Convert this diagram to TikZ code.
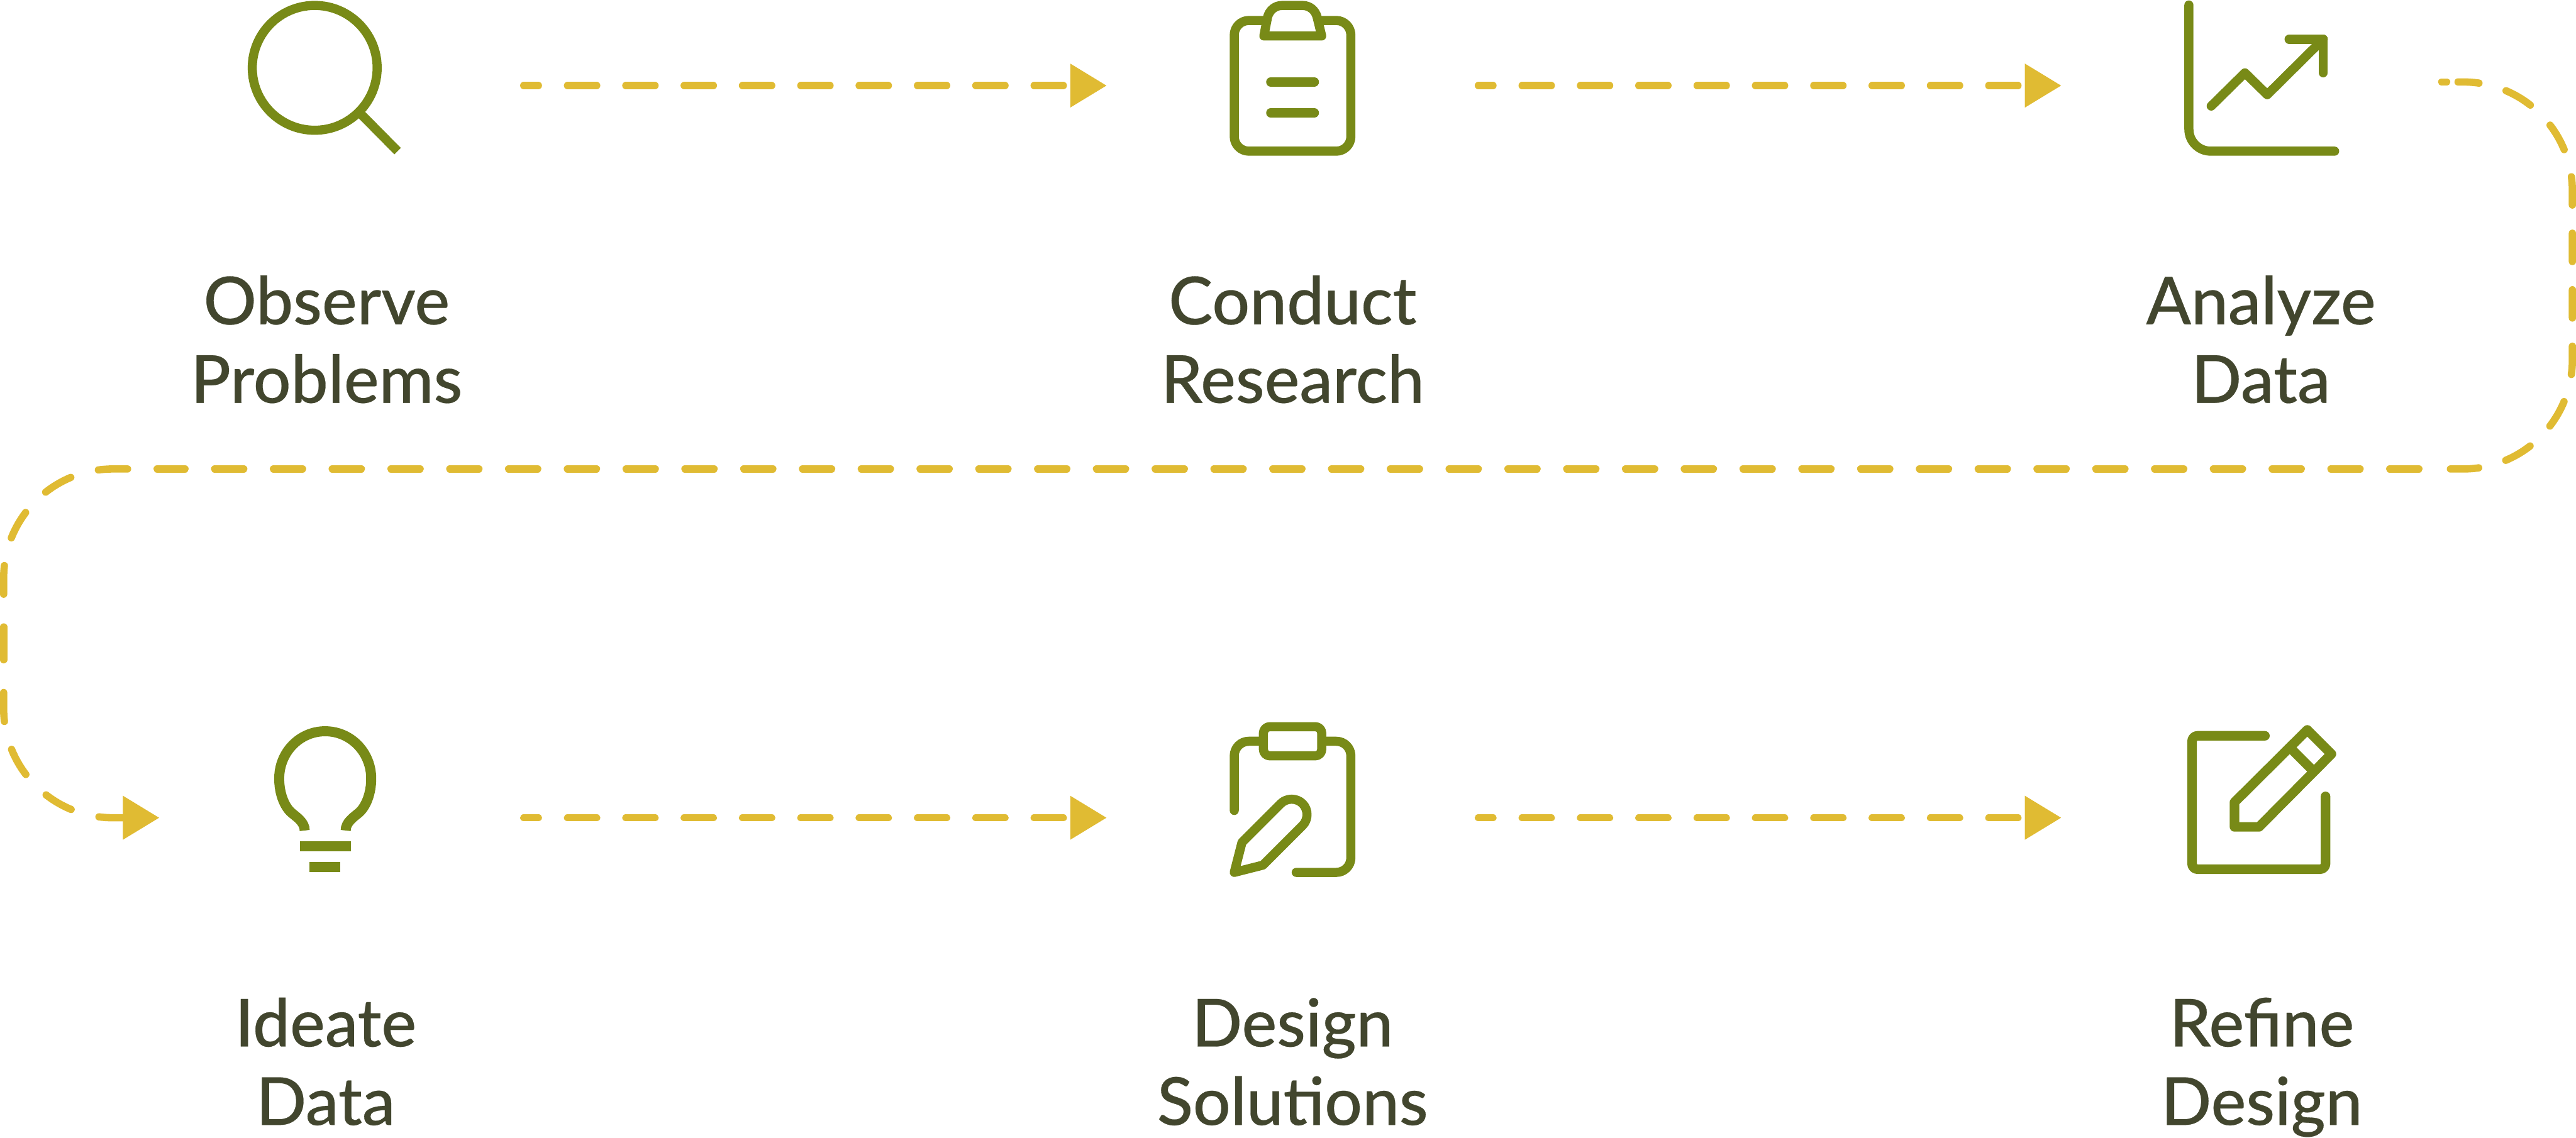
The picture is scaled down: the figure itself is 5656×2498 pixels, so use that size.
\documentclass[tikz,border=0pt]{standalone}
\usepackage{fontspec}
\setmainfont{Lato Medium}[FakeBold=0.25]
\usepackage{tikz}
\usetikzlibrary{arrows.meta}
\definecolor{olivegreen}{HTML}{788A17}
\definecolor{flowgold}{HTML}{E0BB33}
\definecolor{labelgrey}{HTML}{42462E}

\begin{document}
\begin{tikzpicture}[x=0.01cm,y=-0.01cm,
  icon/.style={draw=olivegreen,line width=0.2cm,line cap=round,line join=round},
  iconbutt/.style={draw=olivegreen,line width=0.2cm},
  flow/.style={draw=flowgold,line width=0.16cm,line cap=round},
  flowarrow/.style={flow,-{Triangle[length=0.8cm,width=0.92cm,fill=flowgold]}},
  stepdash/.style={dash pattern=on 0.64cm off 0.64cm},
  label/.style={align=center,text=labelgrey,font=\fontsize{41.3}{49}\selectfont}]
  \useasboundingbox (0,0) rectangle (5656,2498);
  % labels
  \node[label] (observe) at (717,764) {Observe\strut\\Problems\strut};
  \node[label] (conduct) at (2838,764) {Conduct\strut\\Research\strut};
  \node[label] (analyze) at (4964,764) {Analyze\strut\\Data\strut};
  \node[label] (ideate) at (715,2350) {Ideate\strut\\Data\strut};
  \node[label] (design) at (2838,2350) {Design\strut\\Solutions\strut};
  \node[label] (refine) at (4966,2350) {Refine\strut\\Design\strut};
  % magnifier
  \draw[iconbutt] (691,149) circle (1.37cm);
  \draw[iconbutt] (788,246) -- (873,332);
  % clipboard with lines
  \draw[icon,rounded corners=0.32cm] (2780,45) -- (2710,45) -- (2710,332) -- (2966,332) -- (2966,45) -- (2896,45);
  \draw[icon,fill=white] (2775,79) -- (2783,38) .. controls (2787,22) and (2800,12) .. (2815,12)
    -- (2860,12) .. controls (2875,12) and (2888,22) .. (2892,38) -- (2902,79) -- cycle;
  \draw[icon] (2790,180) -- (2886,180);
  \draw[icon] (2790,248) -- (2886,248);
  % chart
  \draw[icon,rounded corners=0.48cm] (4806,11) -- (4806,332) -- (5126,332);
  \draw[icon] (4855,233) -- (4929,160) -- (4978,208) -- (5101,86);
  \draw[icon] (5026,86) -- (5101,86) -- (5101,160);
  % bulb
  \draw[iconbutt,line width=0.22cm] (669,1824) .. controls (669,1806) and (652,1795) .. (640,1785)
    .. controls (624,1771) and (613,1742) .. (613,1710)
    .. controls (613,1652) and (658,1606) .. (714,1606)
    .. controls (770,1606) and (815,1652) .. (815,1710)
    .. controls (815,1742) and (804,1771) .. (788,1785)
    .. controls (776,1795) and (759,1806) .. (759,1824);
  \fill[olivegreen] (658,1847) rectangle (770,1870);
  \fill[olivegreen] (680,1893) rectangle (747,1915);
  % clipboard with pen
  \draw[icon,rounded corners=0.32cm] (2710,1780) -- (2710,1628) -- (2780,1628);
  \draw[icon,rounded corners=0.32cm] (2896,1628) -- (2966,1628) -- (2966,1916) -- (2846,1916);
  \draw[icon,fill=white,rounded corners=0.14cm] (2774,1596) rectangle (2902,1660);
  \draw[icon] (2710,1916) -- (2727,1850) -- (2812,1765) .. controls (2825,1752) and (2847,1752) .. (2860,1765)
    .. controls (2873,1778) and (2873,1800) .. (2860,1813) -- (2773,1900) -- cycle;
  % note with pencil
  \draw[icon,line width=0.21cm,rounded corners=0.12cm] (4973,1616) -- (4813,1616) -- (4813,1909) -- (5106,1909) -- (5106,1749);
  \draw[icon,line width=0.21cm] (4906,1816) -- (4906,1762) -- (5066,1603) -- (5119,1656) -- (4960,1816) -- cycle;
  \draw[icon,line width=0.21cm,line cap=butt] (5028,1642) -- (5078,1692);
  % straight connectors
  \coordinate (a1) at (1150,188);
  \coordinate (a2) at (2430,188);
  \coordinate (a3) at (3246,188);
  \coordinate (a4) at (4526,188);
  \coordinate (a5) at (1150,1796);
  \coordinate (a6) at (2430,1796);
  \coordinate (a7) at (3246,1796);
  \coordinate (a8) at (4526,1796);
  \draw[flowarrow,stepdash,dash phase=0.32cm] (a1) -- (a2);
  \draw[flowarrow,stepdash,dash phase=0.32cm] (a3) -- (a4);
  \draw[flowarrow,stepdash,dash phase=0.32cm] (a5) -- (a6);
  \draw[flowarrow,stepdash,dash phase=0.32cm] (a7) -- (a8);
  % long return connector
  \coordinate (r0) at (5361,180);
  \coordinate (r1) at (5372,180);
  \coordinate (r2) at (5397,180);
  \coordinate (r3) at (5648,180);
  \coordinate (r4) at (5648,1030);
  \coordinate (r5) at (5376,1030);
  \coordinate (m0) at (5311,1030);
  \coordinate (m1) at (345,1030);
  \coordinate (l0) at (280,1030);
  \coordinate (l1) at (8,1030);
  \coordinate (l2) at (8,1305);
  \coordinate (l3) at (8,1377);
  \coordinate (l4) at (8,1449);
  \coordinate (l5) at (8,1521);
  \coordinate (l6) at (8,1796);
  \coordinate (l7) at (350,1796);
  \draw[flow] (r0) -- (r1);
  \draw[flow,rounded corners=2.4cm,dash pattern=on 0.62cm off 0.62cm,dash phase=0.16cm] (r2) -- (r3) -- (r4) -- (r5);
  \draw[flow,dash pattern=on 0.64cm off 0.65cm] (m0) -- (m1);
  \draw[flow,rounded corners=2.4cm,dash pattern=on 0.64cm off 0.63cm] (l0) -- (l1) -- (l2);
  \draw[flow] (l3) -- (l4);
  \draw[flowarrow,rounded corners=2.4cm,dash pattern=on 0.635cm off 0.635cm] (l5) -- (l6) -- (l7);
\end{tikzpicture}
\end{document}
